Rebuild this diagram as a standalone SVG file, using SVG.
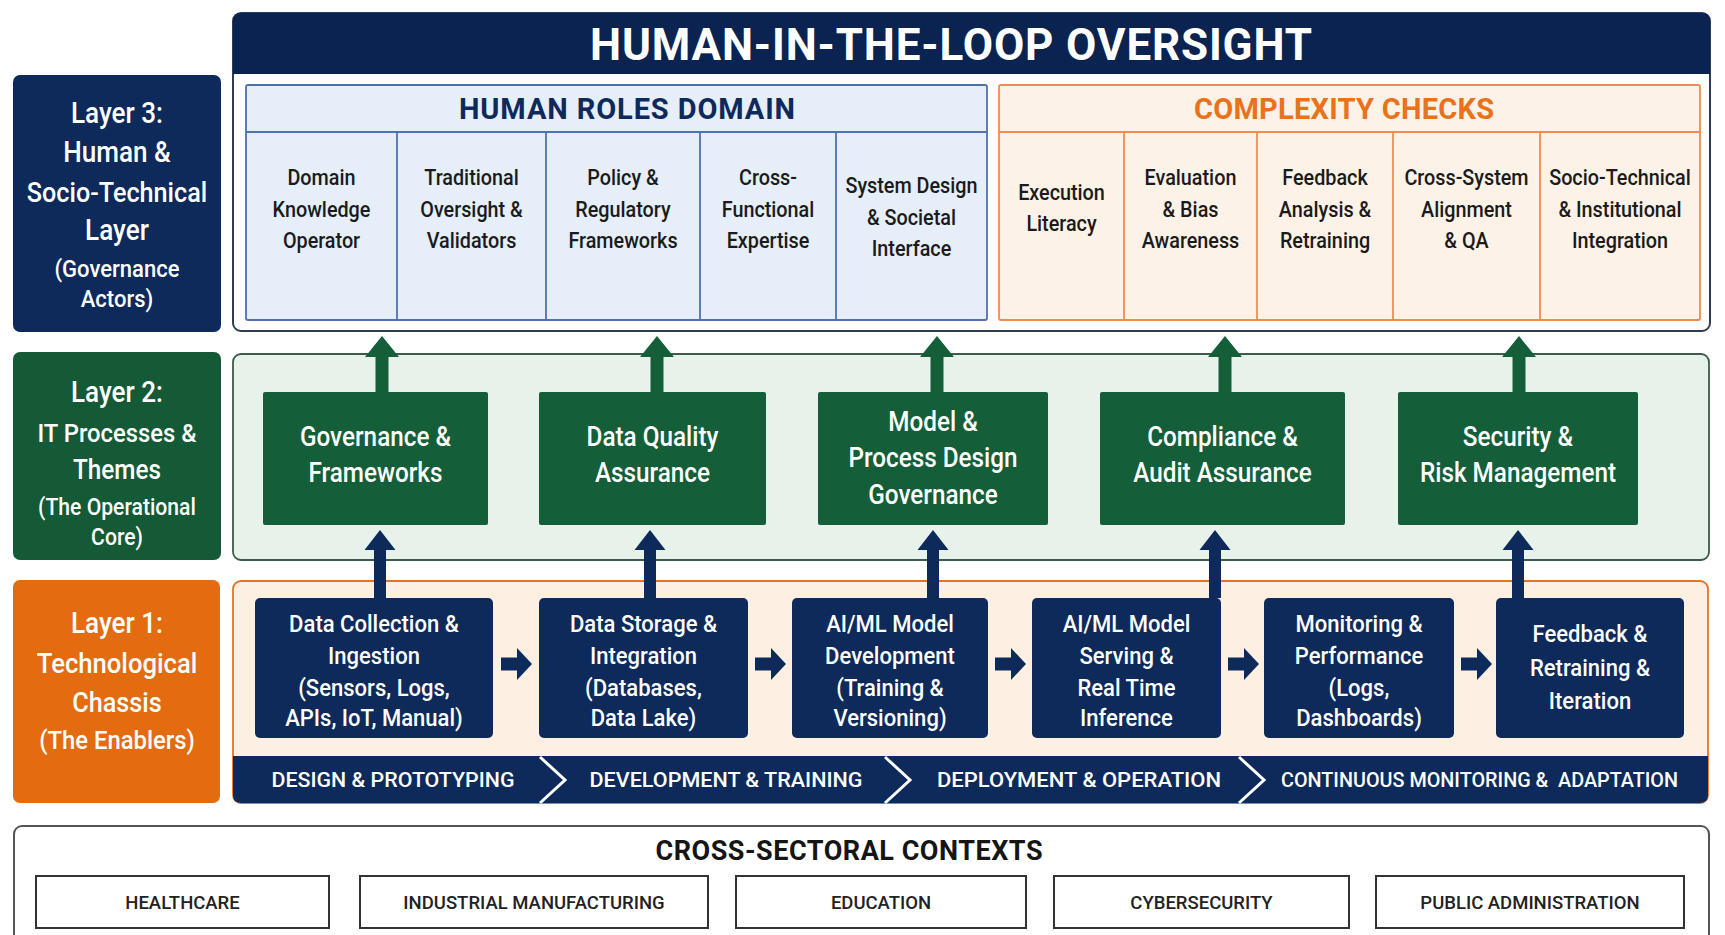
<svg xmlns="http://www.w3.org/2000/svg" width="1725" height="935" viewBox="0 0 1725 935">
<style>
text { font-family: Roboto, "Liberation Sans", "DejaVu Sans", sans-serif; text-anchor: middle; }
.n { transform-box: fill-box; transform-origin: center; transform: scaleX(0.9); }
.w { fill: #ffffff; font-weight: 500; }
.d { fill: #1b1b1b; font-weight: 500; font-size: 22px; }
.gt { font-size: 27px; }
.bt { font-size: 24.5px; }
.ph { fill: #ffffff; font-weight: 500; font-size: 21px; }
.sec { fill: #222222; font-weight: 500; font-size: 18.5px; }
.navy { fill: #0d2a5b; }
.gbox { fill: #145e3a; }
.secbox { fill: #ffffff; stroke: #333333; stroke-width: 2; }
.hdiv { stroke: #4f72aa; stroke-width: 1.8; }
.cdiv { stroke: #f28b4f; stroke-width: 1.8; }
.chev { fill: none; stroke: #ffffff; stroke-width: 3; stroke-linejoin: miter; }
</style>
<defs>
<path id="blk" d="M0,-6.5 H16 V-16 L31,0 L16,16 V6.5 H0 Z" fill="#0d2a5b"/>
<path id="upG" d="M0,0 L17,21 H6.5 V56 H-6.5 V21 H-17 Z" fill="#145e3a"/>
<path id="upN" d="M0,0 L15.5,20 H6 V68 H-6 V20 H-15.5 Z" fill="#0d2a5b"/>
</defs>

<!-- Layer 3 -->
<g id="layer3-label">
<rect x="13" y="75" width="208" height="257" rx="7" class="navy"/>
<text class="n w"><tspan x="117" y="123.5" font-size="29">Layer 3:</tspan><tspan x="117" y="162.5" font-size="29">Human &amp;</tspan><tspan x="117" y="202.5" font-size="28">Socio-Technical</tspan><tspan x="117" y="240.5" font-size="29">Layer</tspan><tspan x="117" y="277" font-size="24.5">(Governance</tspan><tspan x="117" y="307" font-size="24.5">Actors)</tspan></text>
</g>

<g id="hitl-oversight">
<rect x="233" y="13" width="1477" height="318" rx="8" fill="#ffffff" stroke="#2c3e55" stroke-width="2"/>
<path d="M233,74 V21 Q233,13 241,13 H1702 Q1710,13 1710,21 V74 Z" fill="#0b2350"/>
<text x="951" y="59.5" font-size="44" font-weight="700" fill="#ffffff" textLength="722" lengthAdjust="spacing">HUMAN-IN-THE-LOOP OVERSIGHT</text>
</g>

<g id="human-roles-domain">
<rect x="246" y="85" width="741" height="235" rx="2" fill="#e5eef9" stroke="#4f72aa" stroke-width="1.8"/>
<line x1="246" y1="132" x2="987" y2="132" class="hdiv"/>
<line x1="397" y1="132" x2="397" y2="320" class="hdiv"/>
<line x1="546" y1="132" x2="546" y2="320" class="hdiv"/>
<line x1="700" y1="132" x2="700" y2="320" class="hdiv"/>
<line x1="836" y1="132" x2="836" y2="320" class="hdiv"/>
<text x="627" y="119" font-size="29" font-weight="700" fill="#0d2a5b" textLength="336" lengthAdjust="spacing">HUMAN ROLES DOMAIN</text>
</g>
<g id="role-domain-knowledge"><text class="n d"><tspan x="321.5" y="185">Domain</tspan><tspan x="321.5" y="217">Knowledge</tspan><tspan x="321.5" y="248">Operator</tspan></text></g>
<g id="role-traditional-oversight"><text class="n d"><tspan x="471.5" y="185">Traditional</tspan><tspan x="471.5" y="217">Oversight &amp;</tspan><tspan x="471.5" y="248">Validators</tspan></text></g>
<g id="role-policy"><text class="n d"><tspan x="623" y="185">Policy &amp;</tspan><tspan x="623" y="217">Regulatory</tspan><tspan x="623" y="248">Frameworks</tspan></text></g>
<g id="role-cross-functional"><text class="n d"><tspan x="768" y="185">Cross-</tspan><tspan x="768" y="217">Functional</tspan><tspan x="768" y="248">Expertise</tspan></text></g>
<g id="role-system-design"><text class="n d"><tspan x="911.5" y="193">System Design</tspan><tspan x="911.5" y="225">&amp; Societal</tspan><tspan x="911.5" y="256">Interface</tspan></text></g>

<g id="complexity-checks">
<rect x="999" y="85" width="701" height="235" rx="2" fill="#fdf2e7" stroke="#f28b4f" stroke-width="1.8"/>
<line x1="999" y1="132" x2="1700" y2="132" class="cdiv"/>
<line x1="1124" y1="132" x2="1124" y2="320" class="cdiv"/>
<line x1="1257" y1="132" x2="1257" y2="320" class="cdiv"/>
<line x1="1393" y1="132" x2="1393" y2="320" class="cdiv"/>
<line x1="1540" y1="132" x2="1540" y2="320" class="cdiv"/>
<text x="1344" y="119" font-size="29" font-weight="700" fill="#e8731c" textLength="300" lengthAdjust="spacing">COMPLEXITY CHECKS</text>
</g>
<g id="check-execution-literacy"><text class="n d"><tspan x="1061.5" y="200">Execution</tspan><tspan x="1061.5" y="231">Literacy</tspan></text></g>
<g id="check-evaluation-bias"><text class="n d"><tspan x="1190.5" y="185">Evaluation</tspan><tspan x="1190.5" y="217">&amp; Bias</tspan><tspan x="1190.5" y="248">Awareness</tspan></text></g>
<g id="check-feedback-analysis"><text class="n d"><tspan x="1325" y="185">Feedback</tspan><tspan x="1325" y="217">Analysis &amp;</tspan><tspan x="1325" y="248">Retraining</tspan></text></g>
<g id="check-cross-system"><text class="n d"><tspan x="1466.5" y="185">Cross-System</tspan><tspan x="1466.5" y="217">Alignment</tspan><tspan x="1466.5" y="248">&amp; QA</tspan></text></g>
<g id="check-socio-technical"><text class="n d"><tspan x="1620" y="185">Socio-Technical</tspan><tspan x="1620" y="217">&amp; Institutional</tspan><tspan x="1620" y="248">Integration</tspan></text></g>

<!-- Layer 2 -->
<g id="layer2-label">
<rect x="13" y="352" width="208" height="208" rx="7" fill="#155a37"/>
<text class="n w"><tspan x="117" y="402.5" font-size="29">Layer 2:</tspan><tspan x="117" y="442" font-size="26.5">IT Processes &amp;</tspan><tspan x="117" y="479.5" font-size="27">Themes</tspan><tspan x="117" y="515.5" font-size="23.5">(The Operational</tspan><tspan x="117" y="545.5" font-size="23.5">Core)</tspan></text>
</g>
<g id="layer2-panel"><rect x="233" y="354" width="1476" height="206" rx="8" fill="#e7f2eb" stroke="#3d5a4a" stroke-width="1.8"/></g>
<g id="governance-frameworks"><rect x="263" y="392" width="225" height="133" rx="2" class="gbox"/><text class="n w gt"><tspan x="375.5" y="446.5">Governance &amp;</tspan><tspan x="375.5" y="482.5">Frameworks</tspan></text></g>
<g id="data-quality-assurance"><rect x="539" y="392" width="227" height="133" rx="2" class="gbox"/><text class="n w gt"><tspan x="652.5" y="446.5">Data Quality</tspan><tspan x="652.5" y="482.5">Assurance</tspan></text></g>
<g id="model-process-design"><rect x="818" y="392" width="230" height="133" rx="2" class="gbox"/><text class="n w gt"><tspan x="933" y="431.5">Model &amp;</tspan><tspan x="933" y="467.5">Process Design</tspan><tspan x="933" y="504.5">Governance</tspan></text></g>
<g id="compliance-audit"><rect x="1100" y="392" width="245" height="133" rx="2" class="gbox"/><text class="n w gt"><tspan x="1222.5" y="446.5">Compliance &amp;</tspan><tspan x="1222.5" y="482.5">Audit Assurance</tspan></text></g>
<g id="security-risk"><rect x="1398" y="392" width="240" height="133" rx="2" class="gbox"/><text class="n w gt"><tspan x="1518" y="446.5">Security &amp;</tspan><tspan x="1518" y="482.5">Risk Management</tspan></text></g>

<!-- Layer 1 -->
<g id="layer1-label">
<rect x="13" y="580" width="207" height="223" rx="7" fill="#e26c0f"/>
<text class="n w"><tspan x="117" y="633.5" font-size="29">Layer 1:</tspan><tspan x="117" y="673" font-size="28.5">Technological</tspan><tspan x="117" y="712" font-size="28">Chassis</tspan><tspan x="117" y="749.5" font-size="26.5">(The Enablers)</tspan></text>
</g>
<g id="layer1-panel">
<rect x="233" y="581" width="1475" height="222" rx="8" fill="#fdf0e3" stroke="#e8731c" stroke-width="1.8"/>
<path d="M233,756 H1708 V795 Q1708,803 1700,803 H241 Q233,803 233,795 Z" class="navy"/>
<polyline points="540,757 565,780 540,803" class="chev"/>
<polyline points="885,757 910,780 885,803" class="chev"/>
<polyline points="1239,757 1264,780 1239,803" class="chev"/>
<text class="ph" x="393" y="787" textLength="243" lengthAdjust="spacingAndGlyphs">DESIGN &amp; PROTOTYPING</text>
<text class="ph" x="726" y="787" textLength="273" lengthAdjust="spacingAndGlyphs">DEVELOPMENT &amp; TRAINING</text>
<text class="ph" x="1079" y="787" textLength="284" lengthAdjust="spacingAndGlyphs">DEPLOYMENT &amp; OPERATION</text>
<text class="ph" x="1479.5" y="787" xml:space="preserve" textLength="397" lengthAdjust="spacingAndGlyphs">CONTINUOUS MONITORING &amp;  ADAPTATION</text>
</g>
<g id="data-collection"><rect x="255" y="598" width="238" height="140" rx="5" class="navy"/><text class="n w bt"><tspan x="374" y="632">Data Collection &amp;</tspan><tspan x="374" y="664">Ingestion</tspan><tspan x="374" y="696">(Sensors, Logs,</tspan><tspan x="374" y="726">APIs, IoT, Manual)</tspan></text></g>
<g id="data-storage"><rect x="539" y="598" width="209" height="140" rx="5" class="navy"/><text class="n w bt"><tspan x="643.5" y="632">Data Storage &amp;</tspan><tspan x="643.5" y="664">Integration</tspan><tspan x="643.5" y="696">(Databases,</tspan><tspan x="643.5" y="726">Data Lake)</tspan></text></g>
<g id="model-development"><rect x="792" y="598" width="196" height="140" rx="5" class="navy"/><text class="n w bt"><tspan x="890" y="632">AI/ML Model</tspan><tspan x="890" y="664">Development</tspan><tspan x="890" y="696">(Training &amp;</tspan><tspan x="890" y="726">Versioning)</tspan></text></g>
<g id="model-serving"><rect x="1032" y="598" width="189" height="140" rx="5" class="navy"/><text class="n w bt"><tspan x="1126.5" y="632">AI/ML Model</tspan><tspan x="1126.5" y="664">Serving &amp;</tspan><tspan x="1126.5" y="696">Real Time</tspan><tspan x="1126.5" y="726">Inference</tspan></text></g>
<g id="monitoring-performance"><rect x="1264" y="598" width="190" height="140" rx="5" class="navy"/><text class="n w bt"><tspan x="1359" y="632">Monitoring &amp;</tspan><tspan x="1359" y="664">Performance</tspan><tspan x="1359" y="696">(Logs,</tspan><tspan x="1359" y="726">Dashboards)</tspan></text></g>
<g id="feedback-retraining"><rect x="1496" y="598" width="188" height="140" rx="5" class="navy"/><text class="n w bt"><tspan x="1590" y="642">Feedback &amp;</tspan><tspan x="1590" y="676">Retraining &amp;</tspan><tspan x="1590" y="709">Iteration</tspan></text></g>

<!-- Cross-sectoral contexts -->
<g id="cross-sectoral">
<rect x="14" y="826" width="1695" height="150" rx="8" fill="#ffffff" stroke="#555555" stroke-width="2"/>
<text x="849" y="860" font-size="27" font-weight="700" fill="#151515" textLength="387" lengthAdjust="spacing">CROSS-SECTORAL CONTEXTS</text>
</g>
<g id="sector-healthcare"><rect x="36" y="876" width="293" height="52" class="secbox"/><text class="sec" x="182.5" y="909">HEALTHCARE</text></g>
<g id="sector-manufacturing"><rect x="360" y="876" width="348" height="52" class="secbox"/><text class="sec" x="534" y="909">INDUSTRIAL MANUFACTURING</text></g>
<g id="sector-education"><rect x="736" y="876" width="290" height="52" class="secbox"/><text class="sec" x="881" y="909">EDUCATION</text></g>
<g id="sector-cybersecurity"><rect x="1054" y="876" width="295" height="52" class="secbox"/><text class="sec" x="1201.5" y="909">CYBERSECURITY</text></g>
<g id="sector-public-admin"><rect x="1376" y="876" width="308" height="52" class="secbox"/><text class="sec" x="1530" y="909">PUBLIC ADMINISTRATION</text></g>

<!-- Connectors -->
<g id="connectors">
<use href="#upG" x="382" y="336"/>
<use href="#upG" x="657" y="336"/>
<use href="#upG" x="937" y="336"/>
<use href="#upG" x="1225" y="336"/>
<use href="#upG" x="1519" y="336"/>
<use href="#upN" x="380" y="530"/>
<use href="#upN" x="650" y="530"/>
<use href="#upN" x="933" y="530"/>
<use href="#upN" x="1215" y="530"/>
<use href="#upN" x="1518" y="530"/>
<use href="#blk" x="501" y="664"/>
<use href="#blk" x="755" y="664"/>
<use href="#blk" x="995" y="664"/>
<use href="#blk" x="1228" y="664"/>
<use href="#blk" x="1461" y="664"/>
</g>
</svg>
